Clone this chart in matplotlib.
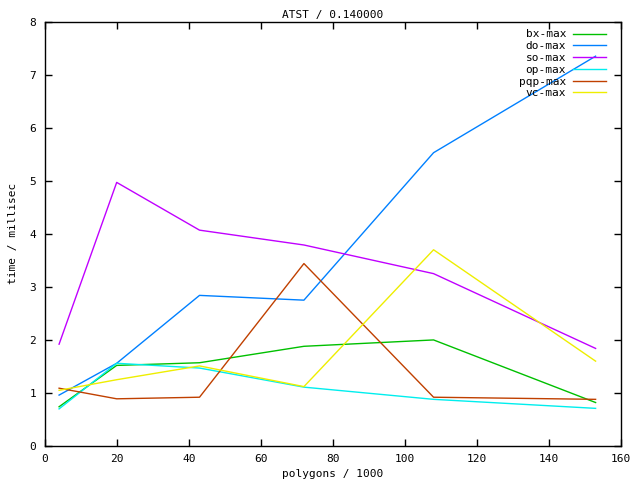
import matplotlib
matplotlib.use("Agg")
import matplotlib.pyplot as plt

polygons = [4, 20, 43, 72, 108, 153]
bx_max = [0.74, 1.52, 1.57, 1.88, 2.00, 0.82]
do_max = [0.96, 1.56, 2.84, 2.75, 5.53, 7.35]
so_max = [1.92, 4.97, 4.07, 3.79, 3.25, 1.84]
op_max = [0.70, 1.56, 1.47, 1.11, 0.88, 0.71]
pqp_max = [1.09, 0.89, 0.92, 3.44, 0.92, 0.88]
vc_max = [1.05, 1.25, 1.51, 1.12, 3.70, 1.60]

series = [("bx-max", bx_max, "#00c000"),
          ("do-max", do_max, "#0080ff"),
          ("so-max", so_max, "#c000ff"),
          ("op-max", op_max, "#00eeee"),
          ("pqp-max", pqp_max, "#c04000"),
          ("vc-max", vc_max, "#eeee00")]

plt.rcParams['font.family'] = ['DejaVu Sans Mono']
fig = plt.figure(figsize=(6.4, 4.8), dpi=100)
ax = fig.add_axes([0.0698, 0.0708, 0.9002, 0.884])

for name, vals, col in series:
    ax.plot(polygons, vals, color=col, lw=1, label=name)

ax.set_xlim(0, 160)
ax.set_ylim(0, 8)
ax.set_xticks(range(0, 161, 20))
ax.set_yticks(range(0, 9))
ax.tick_params(direction="in", top=True, right=True, labelsize=8, length=5, width=1)
ax.tick_params(axis="y", pad=6)
ax.tick_params(axis="x", pad=6)
for s in ax.spines.values():
    s.set_linewidth(1)

ax.set_title("ATST / 0.140000", fontsize=8, pad=3)
ax.set_xlabel("polygons / 1000", fontsize=8, labelpad=3)
ax.set_ylabel("time / millisec", fontsize=8, labelpad=8)

leg = ax.legend(loc="upper right", bbox_to_anchor=(0.988, 1), frameon=False,
                markerfirst=False, fontsize=8,
                handlelength=3.0, handletextpad=0.6, labelspacing=0.16,
                borderaxespad=0.3)
for t in leg.get_texts():
    t.set_ha("right")

plt.savefig("out.png", dpi=100)
